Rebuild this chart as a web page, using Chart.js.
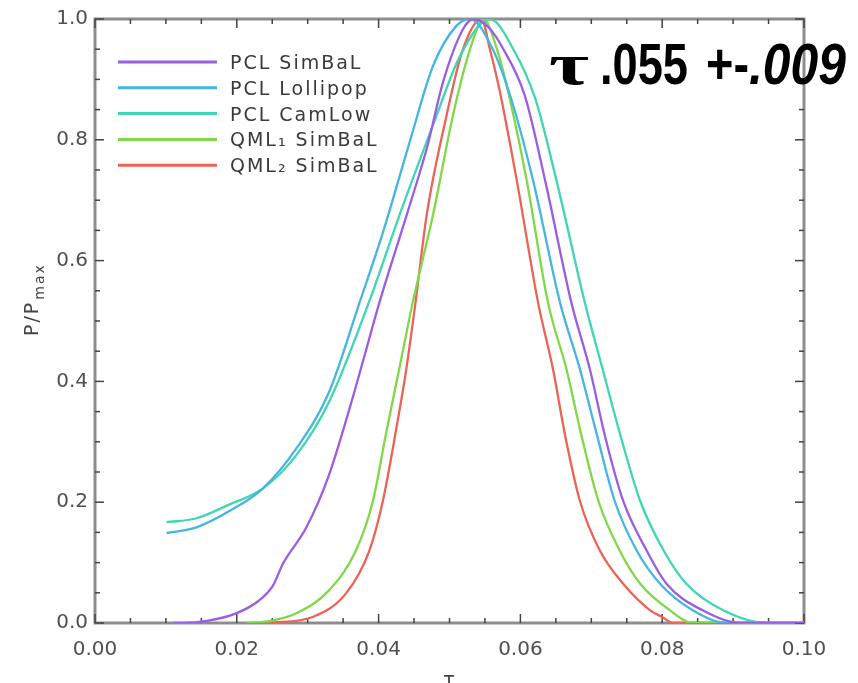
<!DOCTYPE html>
<html lang="en">
<head>
    <meta charset="UTF-8">
    <title>P/Pmax vs tau</title>
    <script src="https://cdn.jsdelivr.net/npm/chart.js"></script>
    <style>
        html, body { margin: 0; padding: 0; background: #fff; }
        #box { width: 858px; height: 683px; }
    </style>
</head>
<body>
    <div id="box"><canvas id="myChart"></canvas></div>
    <script>
        // valores
        const seriesLabels = ['PCL SimBaL', 'PCL Lollipop', 'PCL CamLow', 'QML\u2081 SimBaL', 'QML\u2082 SimBaL'];
        const seriesColors = ['#9a5ee2', '#45b6e0', '#3fd6b2', '#80d848', '#ec6356'];

        const tauPclSimbal = [0.011, 0.0124, 0.016, 0.0199, 0.023, 0.0251, 0.0265, 0.0298, 0.033, 0.0359, 0.038, 0.0401, 0.044, 0.0468, 0.0491, 0.0519, 0.0534, 0.0556, 0.0576, 0.0606, 0.0635, 0.0672, 0.0698, 0.0719, 0.0745, 0.0778, 0.0806, 0.0857, 0.091, 0.1];
        const pPclSimbal   = [0, 0, 0.004, 0.016, 0.036, 0.062, 0.098, 0.158, 0.245, 0.355, 0.442, 0.53, 0.677, 0.786, 0.896, 0.983, 1.0, 0.985, 0.95, 0.874, 0.732, 0.53, 0.42, 0.311, 0.202, 0.12, 0.065, 0.021, 0, 0];

        const tauLollipop = [0.0101, 0.0142, 0.0189, 0.0237, 0.0284, 0.033, 0.0373, 0.0407, 0.0444, 0.0477, 0.051, 0.0529, 0.0561, 0.0587, 0.0618, 0.0656, 0.0684, 0.0708, 0.0733, 0.0764, 0.0797, 0.0843, 0.089, 0.1];
        const pLollipop   = [0.149, 0.158, 0.185, 0.223, 0.289, 0.382, 0.53, 0.65, 0.797, 0.923, 0.989, 1.0, 0.95, 0.868, 0.732, 0.53, 0.42, 0.311, 0.202, 0.12, 0.065, 0.021, 0, 0];

        const tauCamlow = [0.0101, 0.0142, 0.0189, 0.0237, 0.0284, 0.033, 0.0386, 0.043, 0.0477, 0.0515, 0.0557, 0.059, 0.0621, 0.0651, 0.0691, 0.0716, 0.0741, 0.0769, 0.0802, 0.0834, 0.0886, 0.0948, 0.1];
        const pCamlow   = [0.167, 0.173, 0.196, 0.223, 0.278, 0.366, 0.53, 0.677, 0.825, 0.939, 1.0, 0.95, 0.868, 0.732, 0.53, 0.42, 0.311, 0.202, 0.12, 0.065, 0.021, 0, 0];

        const tauQml1 = [0.0214, 0.025, 0.0284, 0.033, 0.0368, 0.0392, 0.041, 0.0429, 0.0448, 0.0477, 0.0505, 0.0529, 0.0548, 0.0567, 0.0585, 0.0609, 0.0639, 0.0665, 0.0686, 0.071, 0.074, 0.0769, 0.0811, 0.0843, 0.1];
        const pQml1   = [0, 0.004, 0.016, 0.054, 0.12, 0.202, 0.311, 0.42, 0.53, 0.677, 0.841, 0.95, 1.0, 0.95, 0.868, 0.732, 0.53, 0.42, 0.311, 0.202, 0.12, 0.065, 0.021, 0, 0];

        const tauQml2 = [0.0245, 0.0307, 0.0354, 0.0387, 0.0406, 0.0425, 0.0439, 0.0452, 0.0468, 0.0496, 0.0519, 0.0545, 0.0557, 0.0571, 0.0595, 0.0625, 0.0646, 0.0663, 0.0684, 0.0712, 0.0745, 0.0783, 0.08, 0.0815, 0.1];
        const pQml2   = [0, 0.01, 0.049, 0.12, 0.202, 0.322, 0.42, 0.53, 0.677, 0.841, 0.95, 1.0, 0.95, 0.88, 0.732, 0.53, 0.42, 0.311, 0.202, 0.12, 0.065, 0.021, 0.01, 0, 0];

        const xTicks = [0, 0.02, 0.04, 0.06, 0.08, 0.1];
        const yTicks = [0, 0.2, 0.4, 0.6, 0.8, 1.0];

        const allTau = [tauPclSimbal, tauLollipop, tauCamlow, tauQml1, tauQml2];
        const allP = [pPclSimbal, pLollipop, pCamlow, pQml1, pQml2];

        function pontos(tau, p) {
            return tau.map((t, i) => ({ x: t, y: p[i] }));
        }

        const datasets = seriesLabels.map((nome, i) => ({
            label: nome,
            data: pontos(allTau[i], allP[i]),
            borderColor: seriesColors[i],
            borderWidth: 2.3,
            pointRadius: 0,
            fill: false,
            cubicInterpolationMode: 'monotone'
        }));

        function linha(ctx, x1, y1, x2, y2) {
            ctx.beginPath();
            ctx.moveTo(x1, y1);
            ctx.lineTo(x2, y2);
            ctx.stroke();
        }

        // moldura e marcas para dentro, estilo IDL
        const moldura = {
            id: 'moldura',
            beforeDatasetsDraw(chart) {
                const { ctx, chartArea: a, scales: { x, y } } = chart;
                ctx.save();
                ctx.strokeStyle = '#8d8d8d';
                ctx.lineWidth = 3;
                ctx.strokeRect(a.left, a.top, a.right - a.left, a.bottom - a.top);
                ctx.strokeStyle = '#444';
                ctx.lineWidth = 1.5;
                for (let i = 0; i <= 20; i++) {
                    const px = x.getPixelForValue(i * 0.005);
                    const len = i % 4 === 0 ? 9 : 5;
                    linha(ctx, px, a.bottom, px, a.bottom - len);
                    linha(ctx, px, a.top, px, a.top + len);
                }
                for (let i = 0; i <= 20; i++) {
                    const py = y.getPixelForValue(i * 0.05);
                    const len = i % 4 === 0 ? 9 : 5;
                    linha(ctx, a.left, py, a.left + len, py);
                    linha(ctx, a.right, py, a.right - len, py);
                }
                ctx.restore();
            }
        };

        // legenda, titulos e texto grande
        const textos = {
            id: 'textos',
            afterDraw(chart) {
                const ctx = chart.ctx;
                ctx.save();

                // legenda
                ctx.font = '19px "DejaVu Sans"';
                ctx.letterSpacing = '2px';
                ctx.textBaseline = 'alphabetic';
                ctx.textAlign = 'left';
                seriesLabels.forEach((nome, i) => {
                    const ly = 62 + i * 25.8;
                    ctx.strokeStyle = seriesColors[i];
                    ctx.lineWidth = 3;
                    linha(ctx, 118, ly, 217, ly);
                    ctx.fillStyle = '#3a3a3a';
                    ctx.fillText(nome, 230, ly + 7);
                });

                // titulo eixo y: P/P_max
                ctx.save();
                ctx.translate(38, 336);
                ctx.rotate(-Math.PI / 2);
                ctx.fillStyle = '#454545';
                ctx.font = '19px "DejaVu Sans"';
                ctx.fillText('P/P', 0, 0);
                const w = ctx.measureText('P/P').width;
                ctx.font = '14px "DejaVu Sans"';
                ctx.fillText('max', w + 1, 6);
                ctx.restore();

                // titulo eixo x: tau
                ctx.letterSpacing = '0px';
                ctx.font = '20px "DejaVu Sans"';
                ctx.textAlign = 'center';
                ctx.textBaseline = 'top';
                ctx.fillStyle = '#454545';
                ctx.fillText('\u03c4', 449, 671);

                // texto grande
                ctx.textAlign = 'left';
                ctx.textBaseline = 'alphabetic';
                ctx.fillStyle = '#000';
                const partes = [
                    ['\u03c4', 'bold 60px "Liberation Serif"', 549, 589],
                    ['.055', 'bold 57px "Liberation Sans"', 600, 688],
                    ['+-', 'bold 57px "Liberation Sans"', 706, 749],
                    ['.009', 'bold italic 57px "Liberation Sans"', 749, 846]
                ];
                partes.forEach(([txt, fonte, x1, x2]) => {
                    ctx.font = fonte;
                    const nat = ctx.measureText(txt).width;
                    ctx.save();
                    ctx.translate(x1, 84);
                    ctx.scale((x2 - x1) / nat, 1);
                    ctx.fillText(txt, 0, 0);
                    ctx.restore();
                });

                ctx.restore();
            }
        };

        const config = {
            type: 'line',
            data: { datasets: datasets },
            options: {
                responsive: true,
                maintainAspectRatio: false,
                animation: false,
                layout: { padding: { left: 0, right: 54, top: 13, bottom: 0 } },
                plugins: {
                    legend: { display: false },
                    tooltip: { enabled: false }
                },
                scales: {
                    x: {
                        type: 'linear',
                        min: 0,
                        max: 0.1,
                        afterFit: (s) => { s.height = 60; },
                        afterBuildTicks: (s) => { s.ticks = xTicks.map(v => ({ value: v })); },
                        grid: { display: false, drawTicks: false },
                        border: { display: false },
                        ticks: {
                            padding: 15,
                            color: '#505050',
                            font: { family: 'DejaVu Sans', size: 20 },
                            maxRotation: 0,
                            callback: (v) => Number(v).toFixed(2)
                        }
                    },
                    y: {
                        min: 0,
                        max: 1,
                        afterFit: (s) => { s.width = 95; },
                        afterBuildTicks: (s) => { s.ticks = yTicks.map(v => ({ value: v })); },
                        grid: { display: false, drawTicks: false },
                        border: { display: false },
                        ticks: {
                            padding: 7,
                            color: '#505050',
                            font: { family: 'DejaVu Sans', size: 20 },
                            callback: (v) => Number(v).toFixed(1)
                        }
                    }
                }
            },
            plugins: [moldura, textos]
        };

        const canvas = document.getElementById('myChart');
        new Chart(canvas, config);
    </script>
</body>
</html>
